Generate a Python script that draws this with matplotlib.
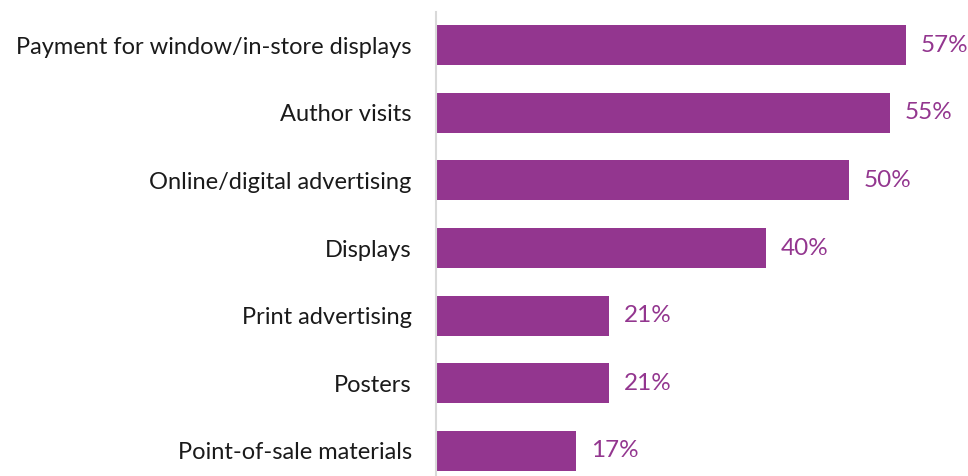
import matplotlib.pyplot as plt

categories = [
    "Payment for window/in-store displays",
    "Author visits",
    "Online/digital advertising",
    "Displays",
    "Print advertising",
    "Posters",
    "Point-of-sale materials",
]
values = [57, 55, 50, 40, 21, 21, 17]

bar_color = "#93368F"

plt.rcParams["font.family"] = ["Lato", "DejaVu Sans"]

fig = plt.figure(figsize=(9.68, 4.76), dpi=100)
ax = fig.add_axes([0.4504, 0.0, 0.5455, 0.9748])

pos = list(range(len(categories)))
ax.barh(pos, values, height=0.59, color=bar_color)

for p, v in zip(pos, values):
    ax.text(v + 1.8, p, f"{v}%", va="center", ha="left",
            fontsize=17.5, color=bar_color)

ax.set_xlim(0, 64)
ax.set_ylim(6.37, -0.49)
ax.set_yticks(pos)
ax.set_yticklabels(categories, fontsize=17, color="#1a1a1a")
ax.tick_params(axis="y", length=0, pad=17.5)
ax.set_xticks([])

for side in ["top", "right", "bottom"]:
    ax.spines[side].set_visible(False)
ax.spines["left"].set_color("#d9d9d9")
ax.spines["left"].set_linewidth(1.5)

fig.savefig("out.png", dpi=100)
